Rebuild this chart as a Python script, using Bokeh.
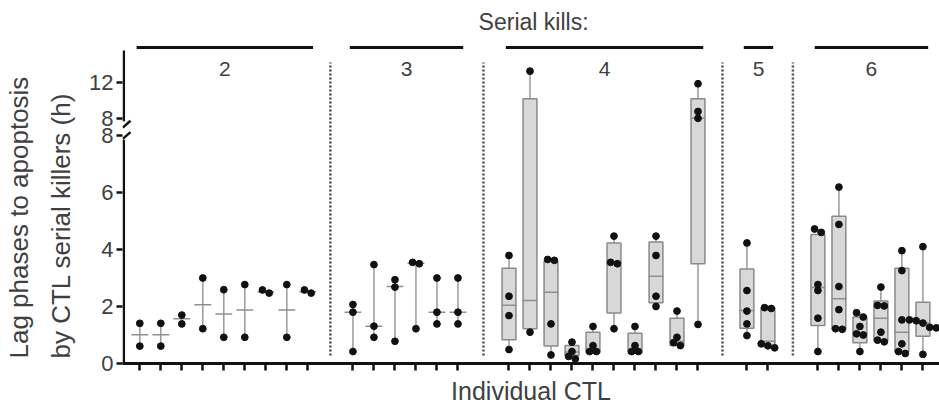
import numpy as np
from bokeh.plotting import figure
from bokeh.models import Range1d, FixedTicker, Title
from bokeh.core.properties import value
from bokeh.embed import file_html
from bokeh.resources import INLINE

# ---------------- data (hours) ----------------
group_names = ["2", "3", "4", "5", "6"]

points_g2 = [[1.41, 0.61], [1.41, 0.61], [1.70, 1.39], [3.00, 1.22], [2.59, 0.92],
             [2.77, 0.92], [2.58, 2.47], [2.77, 0.92], [2.58, 2.47]]
median_g2 = [1.01, 1.01, 1.57, 2.06, 1.74, 1.88, 2.52, 1.88, 2.52]

points_g3 = [[2.07, 1.80, 0.42], [3.47, 1.31, 0.92], [2.94, 2.68, 0.78],
             [3.55, 3.50, 1.22], [3.00, 1.80, 1.39], [3.00, 1.80, 1.39]]
median_g3 = [1.80, 1.31, 2.70, 3.52, 1.80, 1.80]

points_g4 = [[3.79, 2.36, 1.68, 0.49], [13.26, 1.10], [3.65, 3.62, 1.39, 0.30],
             [0.75, 0.42, 0.25, 0.16], [1.30, 0.63, 0.42, 0.42], [4.47, 3.55, 3.50, 1.22],
             [1.30, 0.63, 0.42, 0.42], [4.47, 3.79, 2.36, 2.00], [1.84, 0.92, 0.73, 0.63],
             [11.86, 8.78, 8.02, 1.37]]
q1_g4 = [0.83, 1.22, 0.61, 0.28, 0.38, 1.77, 0.36, 2.13, 0.63, 3.50]
med_g4 = [2.04, 2.21, 2.50, 0.40, 0.45, 3.52, 0.45, 3.06, 0.78, 8.02]
q3_g4 = [3.34, 10.19, 3.59, 0.63, 1.10, 4.23, 1.06, 4.26, 1.59, 10.19]

points_g5 = [[4.23, 2.56, 1.84, 1.39, 0.98], [1.96, 1.93, 0.69, 0.62, 0.55]]
q1_g5 = [1.24, 0.60]
med_g5 = [1.86, 0.78]
q3_g5 = [3.32, 1.96]

points_g6 = [[4.72, 4.60, 2.77, 2.56, 1.59, 0.42],
             [6.19, 4.88, 2.70, 1.89, 1.22, 1.20],
             [1.78, 1.63, 1.30, 1.04, 1.00, 0.42],
             [2.68, 2.04, 2.02, 1.10, 0.82, 0.76],
             [3.96, 3.26, 1.53, 0.69, 0.42, 0.35],
             [4.10, 1.53, 1.50, 1.42, 1.27, 1.25, 0.32]]
q1_g6 = [1.33, 1.20, 0.73, 0.79, 0.40, 0.96]
med_g6 = [2.67, 2.27, 1.05, 1.59, 1.10, 1.42]
q3_g6 = [4.53, 5.17, 1.63, 2.19, 3.34, 2.15]

y_tick_values = [0, 2, 4, 6, 8, 8, 12]
y_tick_labels = ["0", "2", "4", "6", "8", "8", "12"]
y_title_lines = ["Lag phases to apoptosis", "by CTL serial killers (h)"]

# ---------------- broken axis transform ----------------
BREAK = 8.0
GAP = 0.596      # display gap between lower and upper segment
UPPER = 0.316    # compression of the upper segment


def disp(v, upper=None):
    if upper is None:
        upper = v > BREAK
    return BREAK + GAP + (v - BREAK) * UPPER if upper else v


# ---------------- layout ----------------
FONT = value("Liberation Sans")
TXT = "#404040"
group_gaps = [2.15, 2.43, 2.33, 2.38]

groups = [
    dict(points=points_g2, med=median_g2, q1=None, q3=None),
    dict(points=points_g3, med=median_g3, q1=None, q3=None),
    dict(points=points_g4, med=med_g4, q1=q1_g4, q3=q3_g4),
    dict(points=points_g5, med=med_g5, q1=q1_g5, q3=q3_g5),
    dict(points=points_g6, med=med_g6, q1=q1_g6, q3=q3_g6),
]

start = 0.0
for i, g in enumerate(groups):
    g["x"] = start + np.arange(len(g["points"]))
    if i < len(group_gaps):
        start = g["x"][-1] + group_gaps[i]

all_x = np.concatenate([g["x"] for g in groups])

PX = 28.5            # pixels per hour on the lower segment
X0 = -0.824          # left edge of the plotting frame (slot units)
y_top = 363 / PX
p = figure(width=939, height=407, output_backend="svg", toolbar_location=None,
           x_range=Range1d(X0, 38.08), y_range=Range1d(0, y_top),
           min_border_left=122, min_border_right=0, min_border_top=0, min_border_bottom=44)
p.outline_line_color = None
p.xgrid.visible = False
p.ygrid.visible = False
p.background_fill_color = "white"
p.border_fill_color = "white"

# whiskers (range)
wx, wy0, wy1 = [], [], []
for g in groups:
    for x, pts in zip(g["x"], g["points"]):
        wx.append(x)
        wy0.append(disp(min(pts)))
        wy1.append(disp(max(pts)))
p.segment(x0=wx, y0=wy0, x1=wx, y1=wy1, line_color="#9a9a9a", line_width=1.5)

# boxes
bl, br, bb, bt = [], [], [], []
for g in groups:
    if g["q1"] is None:
        continue
    for x, a, b in zip(g["x"], g["q1"], g["q3"]):
        bl.append(x - 0.33); br.append(x + 0.33)
        bb.append(disp(a)); bt.append(disp(b))
p.quad(left=bl, right=br, bottom=bb, top=bt, fill_color="#d8d8d8",
       line_color="#8a8a8a", line_width=1.5)

# medians
mx0, mx1, my = [], [], []
for g in groups:
    hw = 0.40 if g["q1"] is None else 0.36
    for x, m in zip(g["x"], g["med"]):
        mx0.append(x - hw); mx1.append(x + hw); my.append(disp(m))
p.segment(x0=mx0, y0=my, x1=mx1, y1=my, line_color="#8f8f8f", line_width=1.5)

# dots with small horizontal spread for near-identical values
dx, dy = [], []
for g in groups:
    for x, pts in zip(g["x"], g["points"]):
        vals = sorted(pts, reverse=True)
        clusters = [[vals[0]]]
        for v in vals[1:]:
            if abs(disp(clusters[-1][-1]) - disp(v)) < 0.16:
                clusters[-1].append(v)
            else:
                clusters.append([v])
        for c in clusters:
            n = len(c)
            for k, v in enumerate(c):
                dx.append(x + (k - (n - 1) / 2) * 0.32)
                dy.append(disp(v))
p.scatter(dx, dy, size=6.8, fill_color="#111111", line_color="#111111")

# dotted separators between groups
for a, b in zip(groups[:-1], groups[1:]):
    xm = (a["x"][-1] + b["x"][0]) / 2
    p.segment(x0=[xm], y0=[(363 - 355) / PX], x1=[xm], y1=[(363 - 62) / PX],
              line_color="#4d4d4d", line_width=2.5, line_dash="2 2")

# group bars and labels
bar_y = (363 - 47) / PX
lab_y = (363 - 68) / PX
for name, g in zip(group_names, groups):
    x0 = g["x"][0] - 0.15
    x1 = g["x"][-1] + 0.25
    p.segment(x0=[x0], y0=[bar_y], x1=[x1], y1=[bar_y], line_color="#111111", line_width=3)
    p.text(x=[(x0 + x1) / 2], y=[lab_y], text=[name], text_font=FONT,
           text_font_size="21px", text_color=TXT, text_align="center",
           text_baseline="middle")

p.text(x=[18.75], y=[(363 - 21) / PX], text=["Serial kills:"], text_font=FONT,
       text_font_size="23px", text_color=TXT, text_align="center", text_baseline="middle")

# manual y axis line with break
x_ax = X0 + 1.3 / 21
axis_top = (363 - 50) / PX
p.segment(x0=[x_ax, x_ax], y0=[disp(BREAK, True) - 0.1, 0],
          x1=[x_ax, x_ax], y1=[axis_top, BREAK - 0.15], line_color="#111111", line_width=2.5)
p.segment(x0=[x_ax - 0.05, x_ax - 0.05], y0=[disp(BREAK, True) - 0.32, BREAK - 0.12],
          x1=[x_ax + 0.32, x_ax + 0.32], y1=[disp(BREAK, True) - 0.08, BREAK + 0.12],
          line_color="#111111", line_width=2.5)

# ---------------- axes ----------------
tick_pos = [round(disp(v, upper=(i == 5 or v > BREAK)), 4) for i, v in enumerate(y_tick_values)]
yax = p.yaxis[0]
yax.ticker = FixedTicker(ticks=tick_pos, minor_ticks=[])
yax.major_label_overrides = {t: l for t, l in zip(tick_pos, y_tick_labels)}
yax.axis_line_color = None
yax.major_tick_line_color = "#111111"
yax.major_tick_line_width = 2.5
yax.major_tick_out = 6
yax.major_tick_in = 0
yax.minor_tick_line_color = None
yax.major_label_standoff = 3
yax.major_label_text_font = "Liberation Sans"
yax.major_label_text_font_size = "22px"
yax.major_label_text_color = TXT

# y-axis title: two left-aligned lines stacked outward from the axis
for line, standoff in zip(reversed(y_title_lines), [21, 0]):
    p.add_layout(Title(text=line, align="left", offset=5, standoff=standoff,
                       text_font="Liberation Sans", text_font_size="26px",
                       text_font_style="normal", text_color=TXT), "left")

xax = p.xaxis[0]
xax.ticker = FixedTicker(ticks=list(all_x), minor_ticks=[])
xax.major_label_overrides = {float(t): "" for t in all_x}
xax.major_label_text_font_size = "1px"
xax.major_label_standoff = 0
xax.axis_line_color = "#111111"
xax.axis_line_width = 3
xax.major_tick_line_color = "#111111"
xax.major_tick_line_width = 2.5
xax.major_tick_out = 7
xax.major_tick_in = 0
xax.minor_tick_line_color = None
xax.axis_label = "Individual CTL"
xax.axis_label_text_font = "Liberation Sans"
xax.axis_label_text_font_size = "25px"
xax.axis_label_text_font_style = "normal"
xax.axis_label_text_color = TXT
xax.axis_label_standoff = 6

open("out.html", "w").write(file_html(p, INLINE))
